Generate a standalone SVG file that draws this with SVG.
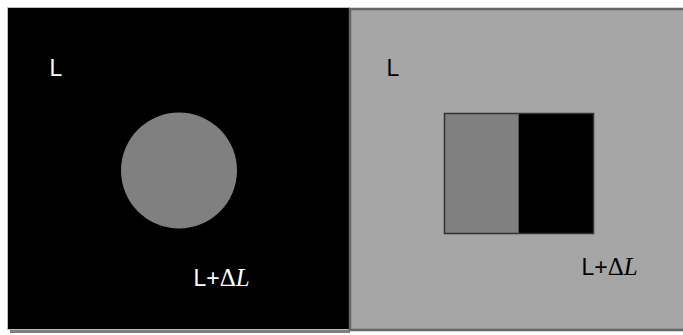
<svg xmlns="http://www.w3.org/2000/svg" width="683" height="335" viewBox="0 0 683 335">
<style>
.lbl{font-family:"Liberation Sans","DejaVu Sans",sans-serif;font-size:23px}
.big{font-size:23px}
.m{font-family:"Liberation Serif","DejaVu Serif",serif;font-size:25px}
.mi{font-style:italic}
</style>
<rect width="683" height="335" fill="#ffffff"/>
<g id="left-panel">
<rect x="10" y="330" width="340" height="3" fill="#7f7f7f"/>
<rect x="7.5" y="7.5" width="342" height="322" fill="#000000" stroke="#bfbfbf" stroke-width="1"/>
<circle cx="179" cy="170.5" r="58" fill="#808080"/>
<text class="lbl big" x="49.5" y="76" fill="#ffffff">L</text>
<text x="193.5" y="286" fill="#ffffff"><tspan class="lbl">L+</tspan><tspan class="m">Δ</tspan><tspan class="m mi">L</tspan></text>
</g>
<g id="right-panel">
<rect x="350" y="9" width="335" height="321" fill="#a6a6a6" stroke="#666666" stroke-width="2.5"/>
<rect x="444.5" y="113.5" width="74" height="120" fill="#808080"/>
<rect x="518.5" y="113.5" width="75" height="120" fill="#000000"/>
<rect x="444.5" y="113.5" width="149" height="120" fill="none" stroke="#333333" stroke-width="1.5"/>
<line x1="518.5" y1="113.5" x2="518.5" y2="233.5" stroke="#555555" stroke-width="1"/>
<text class="lbl big" x="386.5" y="76" fill="#000000">L</text>
<text x="581.5" y="275" fill="#000000"><tspan class="lbl">L+</tspan><tspan class="m">Δ</tspan><tspan class="m mi">L</tspan></text>
</g>
</svg>
